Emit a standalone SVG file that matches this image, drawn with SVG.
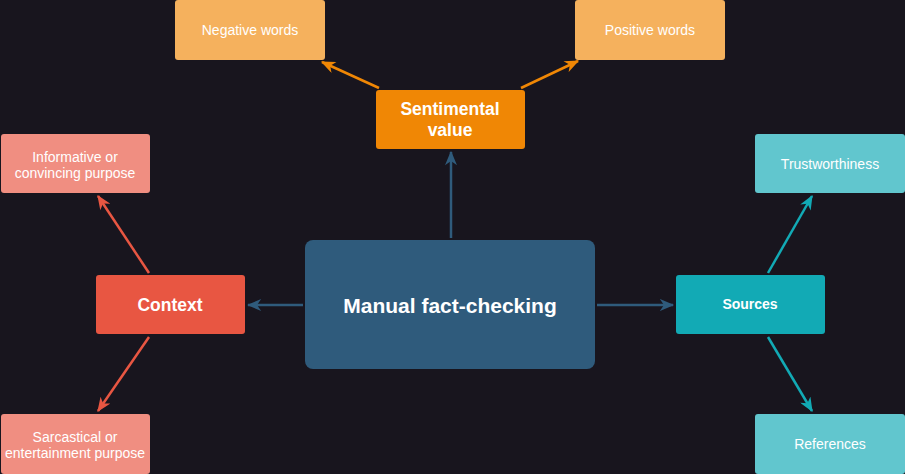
<svg xmlns="http://www.w3.org/2000/svg" width="905" height="474" viewBox="0 0 905 474">
<style>
.t{font-family:"Liberation Sans",Arial,sans-serif;fill:#ffffff;text-anchor:middle;dominant-baseline:central}
.s{font-size:14px}
.b{font-weight:bold}
.c{fill:none;stroke-width:2.5}
</style>
<defs>
<marker id="aB" viewBox="0 0 12 10" refX="11" refY="5" markerWidth="15" markerHeight="12" markerUnits="userSpaceOnUse" orient="auto"><path d="M0,0 L12,5 L0,10 L3.5,5 z" fill="#2f5b7c"/></marker>
<marker id="aO" viewBox="0 0 12 10" refX="11" refY="5" markerWidth="15" markerHeight="12" markerUnits="userSpaceOnUse" orient="auto"><path d="M0,0 L12,5 L0,10 L3.5,5 z" fill="#f08705"/></marker>
<marker id="aR" viewBox="0 0 12 10" refX="11" refY="5" markerWidth="15" markerHeight="12" markerUnits="userSpaceOnUse" orient="auto"><path d="M0,0 L12,5 L0,10 L3.5,5 z" fill="#e85642"/></marker>
<marker id="aT" viewBox="0 0 12 10" refX="11" refY="5" markerWidth="15" markerHeight="12" markerUnits="userSpaceOnUse" orient="auto"><path d="M0,0 L12,5 L0,10 L3.5,5 z" fill="#12aab5"/></marker>
</defs>
<rect width="905" height="474" fill="#18151e"/>
<g id="connectors">
<line class="c" x1="451" y1="238" x2="451" y2="152" stroke="#2f5b7c" marker-end="url(#aB)"/>
<line class="c" x1="303" y1="305" x2="248" y2="305" stroke="#2f5b7c" marker-end="url(#aB)"/>
<line class="c" x1="597" y1="305" x2="673" y2="305" stroke="#2f5b7c" marker-end="url(#aB)"/>
<line class="c" x1="379" y1="88" x2="322" y2="62" stroke="#f08705" marker-end="url(#aO)"/>
<line class="c" x1="521" y1="88" x2="578" y2="61" stroke="#f08705" marker-end="url(#aO)"/>
<line class="c" x1="149" y1="273" x2="98" y2="196" stroke="#e85642" marker-end="url(#aR)"/>
<line class="c" x1="149" y1="337" x2="98" y2="411" stroke="#e85642" marker-end="url(#aR)"/>
<line class="c" x1="768" y1="273" x2="812" y2="196" stroke="#12aab5" marker-end="url(#aT)"/>
<line class="c" x1="768" y1="337" x2="812" y2="411" stroke="#12aab5" marker-end="url(#aT)"/>
</g>
<g id="center"><rect x="305" y="240" width="290" height="129" rx="8" fill="#2f5b7c"/><text class="t b" x="450" y="305" font-size="21">Manual fact-checking</text></g>
<g id="sentimental"><rect x="376" y="90" width="149" height="59" rx="3" fill="#f08705"/><text class="t b" x="450" y="109" font-size="17.5">Sentimental</text><text class="t b" x="450" y="130" font-size="17.5">value</text></g>
<g id="negative"><rect x="175" y="0" width="150" height="60" rx="3" fill="#f5b15d"/><text class="t s" x="250" y="30">Negative words</text></g>
<g id="positive"><rect x="575" y="0" width="150" height="60" rx="3" fill="#f5b15d"/><text class="t s" x="650" y="30">Positive words</text></g>
<g id="context"><rect x="96" y="275" width="149" height="59" rx="3" fill="#e85642"/><text class="t b" x="170" y="305" font-size="17.5">Context</text></g>
<g id="informative"><rect x="1" y="134" width="149" height="59" rx="3" fill="#f08e81"/><text class="t s" x="75" y="157">Informative or</text><text class="t s" x="75" y="173">convincing purpose</text></g>
<g id="sarcastical"><rect x="1" y="414" width="149" height="60" rx="3" fill="#f08e81"/><text class="t s" x="75" y="437">Sarcastical or</text><text class="t s" x="75" y="453">entertainment purpose</text></g>
<g id="sources"><rect x="676" y="275" width="149" height="59" rx="3" fill="#12aab5"/><text class="t s b" x="750" y="304">Sources</text></g>
<g id="trust"><rect x="755" y="134" width="150" height="59" rx="3" fill="#61c6ce"/><text class="t s" x="830" y="164">Trustworthiness</text></g>
<g id="references"><rect x="755" y="414" width="150" height="60" rx="3" fill="#61c6ce"/><text class="t s" x="830" y="444">References</text></g>
</svg>
